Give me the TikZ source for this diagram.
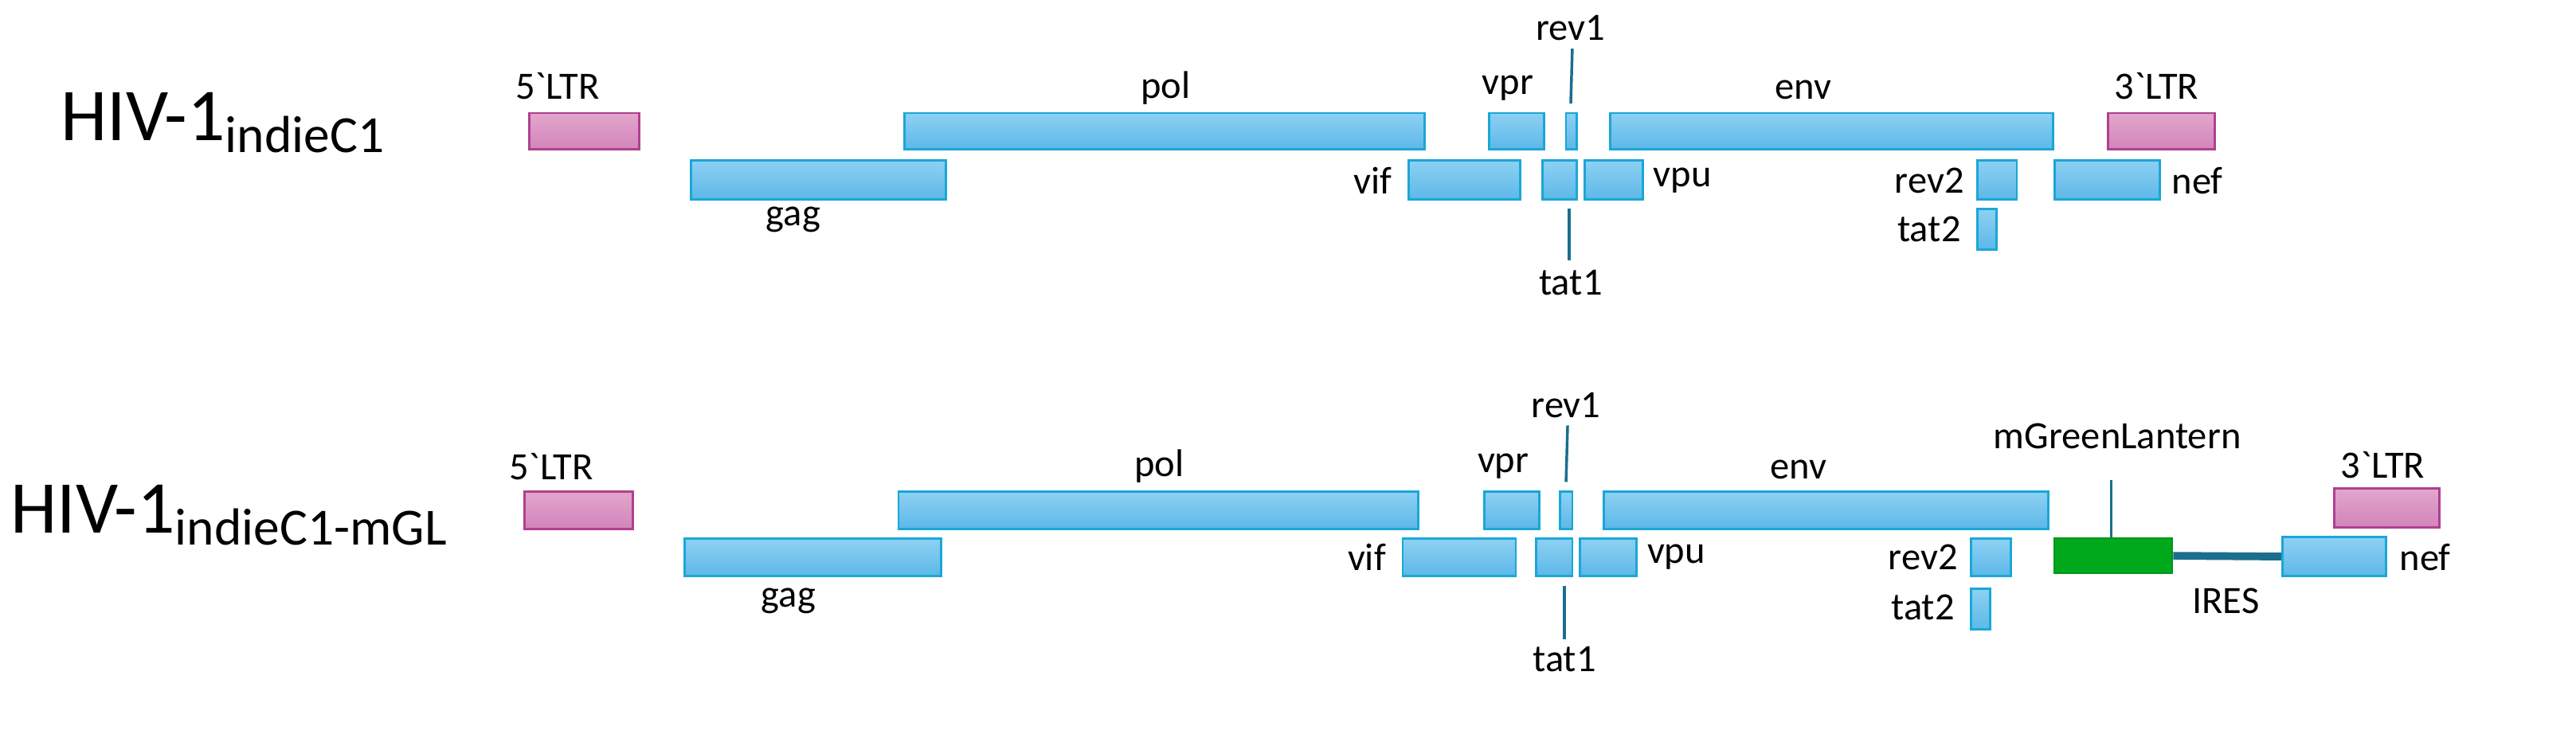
\documentclass[tikz,border=0pt]{standalone}
\usepackage{fontspec}
\setmainfont{Carlito}
\begin{document}
\begin{tikzpicture}[x=0.01cm,y=-0.01cm,
  lbl/.style={inner sep=0pt,font=\fontsize{7}{8}\selectfont},
  ttl/.style={inner sep=0pt,anchor=west,font=\fontsize{13.5}{15}\selectfont},
  blue/.style={draw={rgb,255:red,26;green,167;blue,214},line width=0.4pt,top color={rgb,255:red,142;green,208;blue,243},bottom color={rgb,255:red,92;green,184;blue,232}},
  pink/.style={draw={rgb,255:red,176;green,64;blue,143},line width=0.4pt,top color={rgb,255:red,226;green,166;blue,204},bottom color={rgb,255:red,210;green,132;blue,186}},
  green/.style={fill={rgb,255:red,0;green,168;blue,28},draw={rgb,255:red,0;green,150;blue,25},line width=0.3pt},
  tick/.style={draw={rgb,255:red,27;green,110;blue,142},line width=0.5pt},
  ires/.style={draw={rgb,255:red,27;green,110;blue,142},line width=1.4pt}]
\newcommand\gbox[6]{\node[#6,inner sep=0pt,minimum width={(#4-#2)*0.01cm},minimum height={(#5-#3)*0.01cm}] (#1) at ({(#2+#4)/2},{(#3+#5)/2}) {};}
\newcommand\bq{\textasciigrave}
\useasboundingbox (0,0) rectangle (1640,469.6);
% Row 1
\node[ttl] (t1) at (38,78) {HIV-1\textsubscript{indieC1}};
\gbox{ltr5a}{337}{72}{407}{95}{pink}
\gbox{pola}{576}{72}{907}{95}{blue}
\gbox{vpra}{948}{72}{983}{95}{blue}
\gbox{rev1a}{997}{72}{1004}{95}{blue}
\gbox{enva}{1025}{72}{1307}{95}{blue}
\gbox{ltr3a}{1342}{72}{1410}{95}{pink}
\gbox{gaga}{440}{102}{602}{127}{blue}
\gbox{vifa}{897}{102}{968}{127}{blue}
\gbox{tat1a}{982}{102}{1004}{127}{blue}
\gbox{vpua}{1009}{102}{1046}{127}{blue}
\gbox{rev2a}{1259}{102}{1284}{127}{blue}
\gbox{tat2a}{1259}{133}{1271}{159}{blue}
\gbox{nefa}{1308}{102}{1375}{127}{blue}
\node[lbl] (l1) at (355,55) {5\bq LTR};
\node[lbl] (l2) at (742,56) {pol};
\node[lbl] (l3) at (960,56) {vpr};
\node[lbl] (l4) at (1000,18) {rev1};
\node[lbl] (l5) at (1148,57) {env};
\node[lbl] (l6) at (1373,55) {3\bq LTR};
\node[lbl] (l7) at (505,140) {gag};
\node[lbl,anchor=east] (l8) at (887,115) {vif};
\node[lbl,anchor=west] (l9) at (1052,115) {vpu};
\node[lbl] (l10) at (1000,180) {tat1};
\node[lbl,anchor=east] (l11) at (1251,115) {rev2};
\node[lbl,anchor=east] (l12) at (1249,146) {tat2};
\node[lbl,anchor=west] (l13) at (1382,115) {nef};
\coordinate (r1t) at (1001,31); \coordinate (r1b) at (1000,66);
\draw[tick] (r1t) -- (r1b);
\coordinate (t1t) at (999,133); \coordinate (t1b) at (999,166);
\draw[tick] (t1t) -- (t1b);
% Row 2
\node[ttl] (t2) at (6,328) {HIV-1\textsubscript{indieC1-mGL}};
\gbox{ltr5b}{334}{313}{403}{337}{pink}
\gbox{polb}{572}{313}{903}{337}{blue}
\gbox{vprb}{945}{313}{980}{337}{blue}
\gbox{rev1b}{993}{313}{1001}{337}{blue}
\gbox{envb}{1021}{313}{1304}{337}{blue}
\gbox{ltr3b}{1486}{311}{1553}{336}{pink}
\gbox{gagb}{436}{343}{599}{367}{blue}
\gbox{vifb}{893}{343}{965}{367}{blue}
\gbox{tat1b}{978}{343}{1001}{367}{blue}
\gbox{vpub}{1006}{343}{1042}{367}{blue}
\gbox{rev2b}{1255}{343}{1280}{367}{blue}
\gbox{tat2b}{1255}{375}{1267}{401}{blue}
\gbox{mgl}{1308}{343}{1383}{365}{green}
\gbox{nefb}{1453}{342}{1519}{367}{blue}
\draw[ires] (mgl.east) -- (nefb.west);
\node[lbl] (m1) at (351,297) {5\bq LTR};
\node[lbl] (m2) at (738,297) {pol};
\node[lbl] (m3) at (957,297) {vpr};
\node[lbl] (m4) at (997,258) {rev1};
\node[lbl] (m5) at (1145,299) {env};
\node[lbl] (m6) at (1348,278) {mGreenLantern};
\node[lbl] (m7) at (1517,296) {3\bq LTR};
\node[lbl] (m8) at (502,383) {gag};
\node[lbl,anchor=east] (m9) at (883,355) {vif};
\node[lbl,anchor=west] (m10) at (1048,355) {vpu};
\node[lbl] (m11) at (996,420) {tat1};
\node[lbl,anchor=east] (m12) at (1247,355) {rev2};
\node[lbl,anchor=east] (m13) at (1245,387) {tat2};
\node[lbl] (m14) at (1417,383) {IRES};
\node[lbl,anchor=west] (m15) at (1527,355) {nef};
\coordinate (r2t) at (998,271); \coordinate (r2b) at (997,307);
\draw[tick] (r2t) -- (r2b);
\coordinate (t2t) at (996,373); \coordinate (t2b) at (996,407);
\draw[tick] (t2t) -- (t2b);
\coordinate (mglt) at (1344,306);
\draw[tick] (mglt) -- (mgl.north -| mglt);
\end{tikzpicture}
\end{document}
